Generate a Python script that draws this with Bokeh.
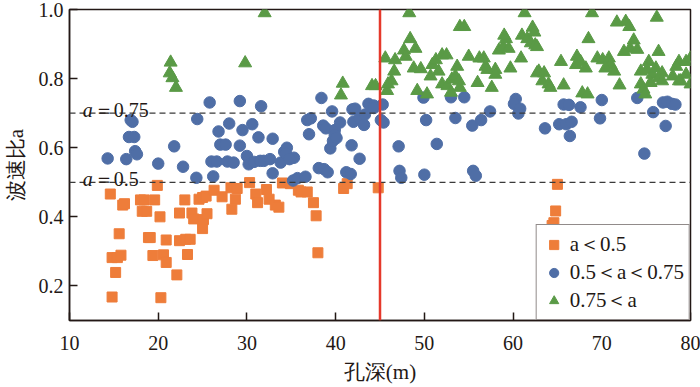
from bokeh.plotting import figure
from bokeh.models import Span, Label, Legend, LegendItem, Range1d, FixedTicker
from bokeh.embed import file_html
from bokeh.resources import INLINE

# ---- data ----
x_ticks = [10, 20, 30, 40, 50, 60, 70, 80]
y_ticks = [0.2, 0.4, 0.6, 0.8, 1.0]
y_tick_labels = ["0.2", "0.4", "0.6", "0.8", "1.0"]
boundary_depth = 45
threshold_lines = [0.7, 0.5]
threshold_texts = ["＝0.75", "＝0.5"]
series_labels = ["a＜0.5", "0.5＜a＜0.75", "0.75＜a"]
x_label = "孔深(m)"
y_label = "波速比a"

low_x = [14.6, 19.9, 16.0, 16.2, 18.0, 18.4, 18.2, 18.7, 19.6, 20.2, 15.6, 18.9, 19.1, 20.9, 14.8,
         15.4, 15.8, 19.4, 20.6, 20.9, 15.2, 22.1, 14.8, 20.3, 22.4, 23.1, 23.6, 23.3, 22.4, 23.0,
         23.8, 24.0, 24.6, 25.0, 25.4, 25.1, 25.5, 25.0, 26.3, 27.2, 28.2, 28.9, 28.7, 28.3, 30.3,
         31.0, 31.2, 32.2, 32.5, 33.2, 33.6, 34.0, 34.9, 35.8, 36.1, 36.8, 37.5, 37.8, 38.0, 40.9,
         41.3, 44.8, 65.0, 64.8, 64.6, 64.4]
low_y = [0.466, 0.491, 0.434, 0.438, 0.449, 0.449, 0.416, 0.416, 0.449, 0.400, 0.351, 0.340, 0.340, 0.333, 0.282,
         0.282, 0.289, 0.288, 0.290, 0.268, 0.239, 0.232, 0.168, 0.166, 0.331, 0.335, 0.335, 0.291, 0.411, 0.449,
         0.411, 0.394, 0.451, 0.456, 0.460, 0.392, 0.409, 0.366, 0.477, 0.458, 0.484, 0.482, 0.451, 0.422, 0.499,
         0.466, 0.441, 0.479, 0.451, 0.434, 0.428, 0.498, 0.496, 0.477, 0.472, 0.472, 0.441, 0.403, 0.296, 0.482,
         0.496, 0.484, 0.494, 0.417, 0.383, 0.375]

mid_pts = [(14.3, 0.569), (16.4, 0.567), (16.9, 0.680), (17.1, 0.675), (16.7, 0.631), (17.3, 0.631),
           (17.4, 0.590), (17.6, 0.581), (20.0, 0.554), (21.8, 0.604), (22.8, 0.545), (24.4, 0.683),
           (25.8, 0.731), (24.3, 0.513), (26.2, 0.517), (26.0, 0.560), (26.6, 0.560), (26.8, 0.647),
           (27.0, 0.609), (27.6, 0.609), (28.0, 0.670), (27.8, 0.560), (28.5, 0.557), (29.2, 0.735),
           (29.2, 0.606), (29.5, 0.651), (30.0, 0.576), (30.2, 0.552), (30.8, 0.559), (31.5, 0.562),
           (31.9, 0.562), (32.6, 0.567), (30.6, 0.668), (31.3, 0.630), (31.6, 0.720), (32.9, 0.626),
           (32.9, 0.526), (33.8, 0.557), (34.2, 0.588), (34.5, 0.600), (34.4, 0.583), (35.3, 0.571),
           (34.8, 0.567), (35.2, 0.505), (35.7, 0.512), (36.6, 0.516), (36.8, 0.680), (37.2, 0.685),
           (37.0, 0.639), (38.1, 0.541), (38.7, 0.538), (39.1, 0.529), (38.4, 0.744), (38.6, 0.664),
           (38.9, 0.656), (39.4, 0.598), (39.6, 0.705), (39.9, 0.651), (39.9, 0.637), (39.7, 0.620),
           (40.1, 0.628), (40.5, 0.673), (41.2, 0.529), (41.7, 0.524), (41.8, 0.607), (42.0, 0.675),
           (41.9, 0.711), (42.2, 0.713), (42.7, 0.685), (43.3, 0.696), (43.2, 0.666), (43.7, 0.727),
           (44.3, 0.722), (44.3, 0.715), (42.7, 0.568), (45.3, 0.725), (45.1, 0.680), (45.4, 0.673),
           (47.1, 0.604), (47.2, 0.533), (47.4, 0.513), (50.0, 0.522), (50.2, 0.680), (51.4, 0.611),
           (49.9, 0.745), (53.0, 0.746), (54.5, 0.746), (53.5, 0.686), (55.4, 0.664), (56.4, 0.680),
           (57.4, 0.705), (55.5, 0.533), (55.8, 0.519), (60.3, 0.741), (60.1, 0.727), (60.8, 0.713),
           (60.6, 0.699), (63.6, 0.656), (65.2, 0.668), (66.0, 0.668), (66.6, 0.675), (66.4, 0.634),
           (65.7, 0.725), (66.3, 0.724), (67.6, 0.717), (69.8, 0.685), (70.0, 0.738), (74.0, 0.744),
           (74.8, 0.583), (75.8, 0.703), (77.2, 0.663), (76.9, 0.731), (77.4, 0.733), (77.9, 0.727),
           (78.3, 0.725)]

high_pts = [(21.4, 0.847), (21.3, 0.816), (21.6, 0.802), (22.0, 0.774), (29.8, 0.845), (32.0, 0.99),
            (40.8, 0.786), (40.6, 0.752), (44.1, 0.779), (44.5, 0.779), (45.6, 0.859), (46.7, 0.854),
            (46.6, 0.821), (46.3, 0.793), (45.8, 0.765), (45.9, 0.784), (48.3, 0.99), (48.4, 0.915),
            (47.7, 0.882), (49.0, 0.887), (47.9, 0.864), (48.8, 0.830), (49.6, 0.828), (49.2, 0.765),
            (50.3, 0.755), (50.7, 0.807), (50.9, 0.840), (51.3, 0.854), (51.6, 0.821), (52.0, 0.868),
            (52.5, 0.868), (52.0, 0.784), (52.6, 0.779), (53.1, 0.798), (53.5, 0.807), (53.9, 0.793),
            (54.0, 0.774), (53.0, 0.760), (53.7, 0.835), (54.0, 0.950), (54.5, 0.950), (55.0, 0.864),
            (56.0, 0.788), (56.2, 0.859), (56.7, 0.859), (56.9, 0.835), (57.6, 0.774), (57.1, 0.826),
            (58.0, 0.826), (58.0, 0.812), (59.7, 0.830), (58.4, 0.882), (58.9, 0.892), (59.2, 0.915),
            (59.0, 0.925), (59.5, 0.887), (60.9, 0.859), (61.3, 0.99), (61.0, 0.925), (61.6, 0.915),
            (62.2, 0.948), (62.4, 0.934), (62.0, 0.903), (62.5, 0.897), (62.7, 0.816), (68.9, 0.99),
            (71.7, 0.963), (72.7, 0.965), (73.1, 0.950), (76.2, 0.977), (68.5, 0.915), (73.6, 0.911),
            (73.2, 0.887), (72.5, 0.878), (74.0, 0.884), (76.4, 0.878), (62.7, 0.892), (65.4, 0.849),
            (67.2, 0.864), (67.1, 0.840), (67.6, 0.849), (68.2, 0.830), (69.5, 0.859), (70.1, 0.854),
            (70.8, 0.859), (71.0, 0.840), (71.4, 0.821), (70.4, 0.830), (62.9, 0.821), (63.5, 0.816),
            (63.3, 0.793), (64.0, 0.784), (64.2, 0.774), (65.7, 0.781), (67.8, 0.758), (68.4, 0.755),
            (72.0, 0.781), (74.4, 0.821), (75.3, 0.849), (75.1, 0.826), (75.7, 0.812), (76.1, 0.830),
            (76.8, 0.816), (76.4, 0.802), (74.4, 0.784), (74.7, 0.769), (74.9, 0.755), (75.5, 0.788),
            (76.8, 0.793), (78.0, 0.807), (78.9, 0.793), (79.5, 0.812), (80.0, 0.784), (78.7, 0.849),
            (79.5, 0.849), (80.0, 0.859), (78.4, 0.835), (78.7, 0.793)]

mid_x = [p_[0] for p_ in mid_pts]
mid_y = [p_[1] for p_ in mid_pts]
high_x = [p_[0] for p_ in high_pts]
high_y = [p_[1] for p_ in high_pts]

ORANGE = "#EE7D3A"
BLUE = "#4F6EA6"
GREEN = "#5A9A46"
INK = "#231815"
SERIF = "Liberation Serif"

p = figure(width=700, height=387, x_range=Range1d(10, 80), y_range=Range1d(0.1, 1.0),
           output_backend="svg", toolbar_location=None,
           min_border_left=69, min_border_right=10, min_border_top=9, min_border_bottom=67)

p.xgrid.visible = False
p.ygrid.visible = False
p.outline_line_color = INK
p.outline_line_width = 1.5
p.outline_line_alpha = 1

for ax in (p.xaxis[0], p.yaxis[0]):
    ax.axis_line_color = INK
    ax.axis_line_width = 1.5
    ax.major_tick_line_color = INK
    ax.major_tick_line_width = 1.5
    ax.major_tick_in = 8
    ax.major_tick_out = 0
    ax.minor_tick_line_color = None
    ax.major_label_text_font = SERIF
    ax.major_label_text_font_size = "20px"
    ax.major_label_text_color = INK
    ax.axis_label_text_font = SERIF
    ax.axis_label_text_font_size = "21px"
    ax.axis_label_text_font_style = "normal"
    ax.axis_label_text_color = INK

p.xaxis.ticker = FixedTicker(ticks=x_ticks)
p.yaxis.ticker = FixedTicker(ticks=y_ticks)
p.yaxis.major_label_overrides = {t: l for t, l in zip(y_ticks, y_tick_labels)}
p.xaxis.major_label_standoff = 15
p.yaxis.major_label_standoff = 6
p.xaxis.axis_label = x_label
p.xaxis.axis_label_standoff = 7
p.yaxis.axis_label = y_label
p.yaxis.axis_label_standoff = 8

# threshold lines
for yv in threshold_lines:
    p.add_layout(Span(location=yv, dimension="width", line_color="#3a3a3a",
                      line_width=1.3, line_dash="6 4"))
p.add_layout(Span(location=boundary_depth, dimension="height", line_color="#E5382B",
                  line_width=2.5))

r_low = p.scatter(low_x, low_y, marker="square", size=10, color=ORANGE)
r_mid = p.scatter(mid_x, mid_y, marker="circle", size=11.5, color=BLUE)
r_high = p.scatter(high_x, high_y, marker="triangle", size=13, color=GREEN)

# threshold annotations (italic a)
for yv, txt in zip(threshold_lines, threshold_texts):
    p.add_layout(Label(x=11.5, y=yv, y_offset=3, text="a", text_font=SERIF,
                       text_font_style="italic", text_font_size="20px", text_color=INK,
                       text_baseline="alphabetic"))
    p.add_layout(Label(x=11.5, y=yv, x_offset=11, y_offset=3, text=txt, text_font=SERIF,
                       text_font_size="20px", text_color=INK, text_baseline="alphabetic"))

legend = Legend(items=[LegendItem(label=series_labels[0], renderers=[r_low]),
                       LegendItem(label=series_labels[1], renderers=[r_mid]),
                       LegendItem(label=series_labels[2], renderers=[r_high])],
                location="bottom_right", margin=0, padding=5, spacing=0,
                glyph_width=24, glyph_height=23, label_standoff=4, label_height=20,
                label_text_font=SERIF, label_text_font_size="21px", label_text_color=INK,
                label_text_line_height=0.85,
                border_line_color=INK, border_line_width=1.5, background_fill_alpha=1)
p.add_layout(legend)

open("out.html", "w").write(file_html(p, INLINE))
